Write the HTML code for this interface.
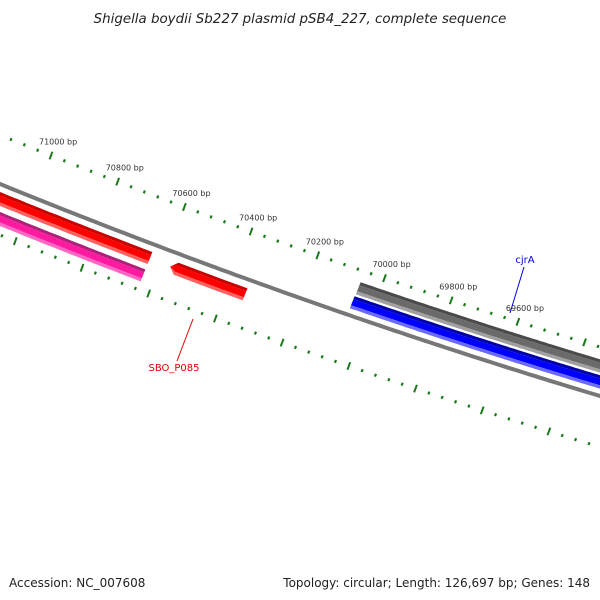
<!DOCTYPE html>
<html><head><meta charset="utf-8"><style>
html,body{margin:0;padding:0;background:#fff;}
svg{display:block;font-family:"DejaVu Sans","Liberation Sans",sans-serif;}
</style></head><body>
<svg id="chart" width="600" height="600" viewBox="0 0 600 600">
<text x="300" y="23" text-anchor="middle" font-size="13.4" font-style="italic" fill="#222">Shigella boydii Sb227 plasmid pSB4_227, complete sequence</text>
<g id="ticks"></g>
<path id="backbone" fill="none" stroke="#777" stroke-width="4"></path>
<g id="features"></g>
<g id="labels"></g>
<text x="9" y="587" font-size="12" fill="#222">Accession: NC_007608</text>
<text x="590" y="587" text-anchor="end" font-size="12" fill="#222">Topology: circular; Length: 126,697 bp; Genes: 148</text>
</svg>
<script>
const tickMajorBp = [71200,71000,70800,70600,70400,70200,70000,69800,69600,69400,69200];
const tickLabels = ["71000 bp","70800 bp","70600 bp","70400 bp","70200 bp","70000 bp","69800 bp","69600 bp"];
const tickLabelBp = [71000,70800,70600,70400,70200,70000,69800,69600];
const featureNames = ["SBO_P085a","SBO_P085b","SBO_P085","gray-feature","cjrA"];
const featureStart = [71250,71250,70643,70079,70097];
const featureEnd = [70703,70724,70418,69200,69200];
const featureLane = [15,35,16,-30,-14];
const featureColor = ["red","magenta","red","gray","blue"];
const featureArrow = [false,false,true,false,false];

const NS="http://www.w3.org/2000/svg";
function bpToX(bp){return 51+(71000-bp)*0.3335;}
function B(x){return 184+0.4067*x-8.9e-5*x*x;}
function mk(tag,attrs,parent){const e=document.createElementNS(NS,tag);for(const k in attrs)e.setAttribute(k,attrs[k]);parent.appendChild(e);return e;}

let d="";for(let x=-10;x<=610;x+=5){d+=(x===-10?"M":"L")+x+","+B(x).toFixed(1);}
document.getElementById('backbone').setAttribute('d',d);

const tg=document.getElementById('ticks');
const lg=document.getElementById('labels');
const startBp=71400,endBp=69000;
[-49,51].forEach(function(off){
  for(let bp=startBp;bp>=endBp;bp-=40){
    const x=bpToX(bp);
    const xx=off>0?x+31:x;
    if(xx<-5||xx>605)continue;
    const y=B(xx)+off;
    const major=(bp%200===0);
    const L=major?3.8:1.4;
    const ln=mk('line',{x1:(xx-L*0.38).toFixed(1),y1:(y+L).toFixed(1),x2:(xx+L*0.38).toFixed(1),y2:(y-L).toFixed(1),stroke:'#1a7a1a','stroke-width':major?2:2.2},tg);
    
    
  }
});
tickLabelBp.forEach(function(bp,i){
  const x=bpToX(bp);const y=B(x)-49;
  const t=mk('text',{x:(x-12).toFixed(1),y:(y-11).toFixed(1),'font-size':'8',fill:'#333'},lg);
  t.textContent=tickLabels[i];
  
  
});

const pal={red:['#c80000','#ff0000','#ff6060'],magenta:['#b0207a','#ff1aa0','#ff66c4'],gray:['#4a4a4a','#6a6a6a','#a0a0a0'],blue:['#0000a8','#0000ff','#6a6aff']};
const fg=document.getElementById('features');
featureNames.forEach(function(name,i){
  const x0=bpToX(featureStart[i]),x1=bpToX(featureEnd[i]);
  const lane=featureLane[i];const c=pal[featureColor[i]];
  const bands=[[-6,-3,c[0]],[-3,3,c[1]],[3,6,c[2]]];
  const g=mk('g',{},fg);
  
  
  bands.forEach(function(bd){
    let top=[],bot=[];
    const sA=x0+(featureArrow[i]?6:0);
    for(let x=sA;x<=x1;x+=4){top.push([x,B(x)+lane+bd[0]]);bot.push([x,B(x)+lane+bd[1]]);}
    top.push([x1,B(x1)+lane+bd[0]]);bot.push([x1,B(x1)+lane+bd[1]]);
    const sh=0.4;
    top=top.map(p=>[p[0]-bd[0]*sh,p[1]]);bot=bot.map(p=>[p[0]-bd[1]*sh,p[1]]);
    let pts=top.concat(bot.reverse());
    if(featureArrow[i]){const ty=B(x0)+lane;pts.push([x0,ty]);}
    mk('polygon',{points:pts.map(p=>p[0].toFixed(1)+","+p[1].toFixed(1)).join(" "),fill:bd[2]},g);
  });
});

function callout(text,color,tx,ty,lx1,ly1,lx2,ly2,name){
  const l=mk('line',{x1:lx1,y1:ly1,x2:lx2,y2:ly2,stroke:color,'stroke-width':1},lg);
  
  
  const t=mk('text',{x:tx,y:ty,'font-size':'10',fill:color,'text-anchor':'middle'},lg);
  t.textContent=text;
  
  
}
callout('SBO_P085','#e00000',174,371,177,361,193,319,'sbo-p085');
callout('cjrA','#0000e0',525,263,524,267,510,313,'cjra');
</script>
</body></html>
